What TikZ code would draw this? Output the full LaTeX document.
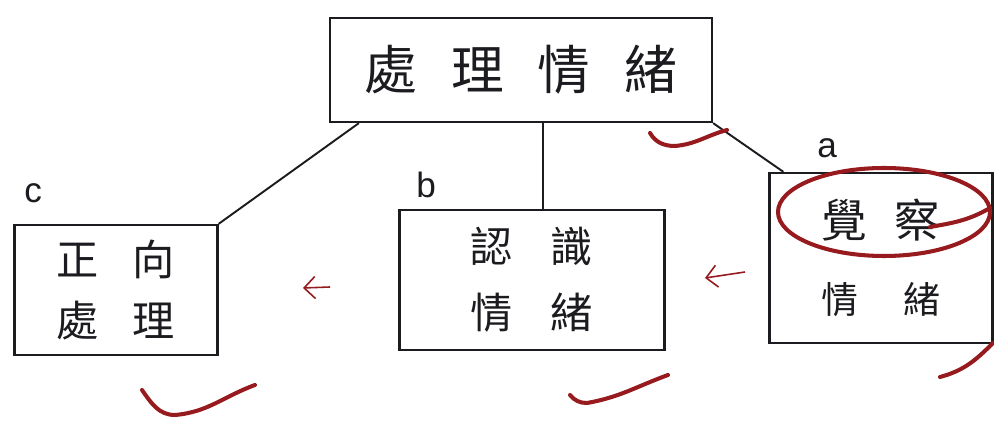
\documentclass[tikz,border=0pt]{standalone}
\usepackage{fontspec}
\setmainfont{Liberation Sans}
\newfontfamily\hand{Noto Sans CJK TC}
\usetikzlibrary{arrows,arrows.meta,positioning}
\definecolor{ink}{RGB}{28,28,32}
\definecolor{penred}{RGB}{150,26,30}
\tikzset{
    %Define standard arrow tip
    >={Straight Barb[length=2.2mm,width=4.4mm]},
    kasten/.style={
      rectangle,
      draw=ink, line width=1.3pt,
      inner sep=0pt,
      align=center,
      text=ink},
    tag/.style={
      inner sep=0pt,
      text=ink,
      font=\fontsize{20}{20}\selectfont},
    redpen/.style={
      draw=penred, line width=2.3pt,
      line cap=round},
    redarrow/.style={
      draw=penred, line width=0.9pt,
      ->},
}

\begin{document}
\begin{tikzpicture}[line width=1.1pt]
    \useasboundingbox (0,0) rectangle (19.88,8.46);
    \node (top) [kasten, minimum width=7.64cm, minimum height=2.08cm,
          font=\hand\addfontfeature{LetterSpace=64}\fontsize{30}{32}\selectfont]
          at (10.42,7.06) {處理情緒};
    \node (boxc) [kasten, minimum width=4.06cm, minimum height=2.6cm,
          font=\hand\addfontfeature{LetterSpace=80}\fontsize{24}{26}\selectfont]
          at (2.32,2.66) {正向\\[0.3cm]處理};
    \node (boxb) [kasten, minimum width=5.3cm, minimum height=2.8cm,
          font=\hand\addfontfeature{LetterSpace=90}\fontsize{24}{26}\selectfont]
          at (10.64,2.86) {認識\\[0.4cm]情緒};
    \node (boxa) [kasten, minimum width=4.46cm, minimum height=3.4cm,
          font=\hand\addfontfeature{LetterSpace=60}\fontsize{26}{28}\selectfont]
          at (17.62,3.3) {覺察\\[0.55cm]{\fontsize{21}{23}\selectfont\addfontfeature{LetterSpace=120}情緒}};
    % letters over the boxes
    \node (tagc) [tag, above right=0.4cm and 0.2cm of boxc.north west] {c};
    \node (tagb) [tag, above right=0.2cm and 0.34cm of boxb.north west] {b};
    \node (taga) [tag, above right=0.26cm and 0.96cm of boxa.north west] {a};
    % connectors
    \draw [draw=ink] (boxc.north east) -- ([xshift=0.6cm]top.south west);
    \draw [draw=ink] ([xshift=0.22cm]boxb.north) -- ([xshift=0.22cm]boxb.north |- top.south);
    \draw [draw=ink] (top.south east) -- ([xshift=0.3cm]boxa.north west);
    % red marks
    \coordinate (arrc1) at (6.6,2.72);
    \coordinate (arrc2) at (6.06,2.7);
    \coordinate (arrb1) at (14.9,3.02);
    \coordinate (arrb2) at (14.1,2.9);
    \draw [redarrow] (arrc1) -- (arrc2);
    \draw [redarrow] (arrb1) -- (arrb2);
    \draw [redpen] (17.68,4.22) ellipse (2.12 and 0.88);
    \draw [redpen] (19.8,4.3) to[out=-150,in=10] (18.6,3.92);
    \draw [redpen] (2.84,0.66) to[out=-55,in=180] (3.5,0.16) to[out=5,in=-160] (5.1,0.76);
    \draw [redpen] (11.4,0.56) to[out=-50,in=180] (11.74,0.4) to[out=10,in=-160] (13.36,0.96);
    \draw [redpen] (13.0,5.8) to[out=-60,in=180] (13.5,5.54) to[out=5,in=-165] (14.54,5.86);
    \draw [redpen] (18.8,0.92) to[out=15,in=-135] (19.86,1.6);
\end{tikzpicture}
\end{document}
